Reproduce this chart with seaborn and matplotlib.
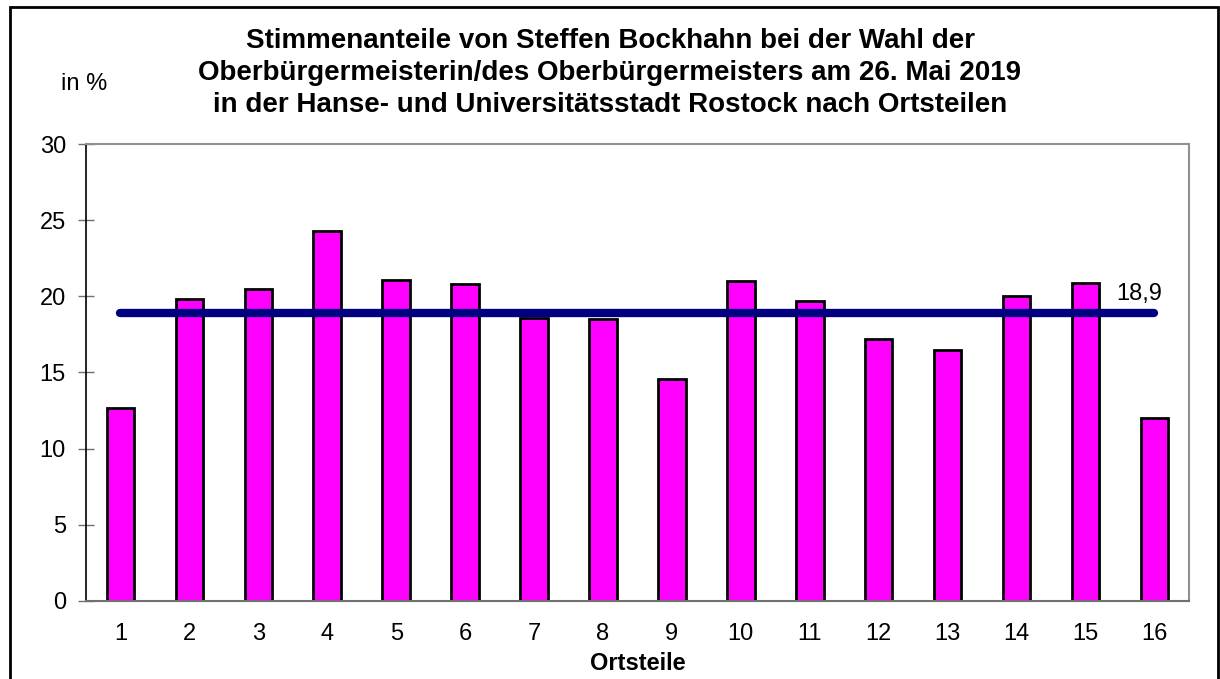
import numpy as np
import pandas as pd
import seaborn as sns
import matplotlib.pyplot as plt
from matplotlib.patches import Rectangle

# Data
ortsteile = [str(i) for i in range(1, 17)]
anteile = [12.7, 19.8, 20.5, 24.3, 21.1, 20.8, 18.6, 18.5,
           14.6, 21.0, 19.7, 17.2, 16.5, 20.0, 20.9, 12.0]
gesamt = 18.9

title = ("Stimmenanteile von Steffen Bockhahn bei der Wahl der\n"
         "Oberbürgermeisterin/des Oberbürgermeisters am 26. Mai 2019\n"
         "in der Hanse- und Universitätsstadt Rostock nach Ortsteilen")

df = pd.DataFrame({"Ortsteil": ortsteile, "Anteil": anteile})
df["Gesamt"] = gesamt

sns.set_style("white")
plt.rcParams["font.family"] = ["Liberation Sans", "DejaVu Sans"]
plt.rcParams["text.color"] = "black"
plt.rcParams["axes.labelcolor"] = "black"

fig = plt.figure(figsize=(12.2, 6.79), dpi=100)
ax = fig.add_axes([0.0705, 0.1149, 0.904, 0.673])

sns.barplot(data=df, x="Ortsteil", y="Anteil", color="#FF00FF",
            edgecolor="black", linewidth=2, width=0.4, saturation=1, ax=ax)
sns.lineplot(data=df, x="Ortsteil", y="Gesamt", color="#000080",
             linewidth=6, solid_capstyle="round", ax=ax)
ax.text(14.45, gesamt + 0.55, f"{gesamt:.1f}".replace(".", ","),
        fontsize=17, ha="left", va="bottom")

ax.set_xlim(-0.5, 15.5)
ax.set_ylim(0, 30)
ax.set_yticks(range(0, 31, 5))
ax.set_xticks(range(16))
ax.set_xticks(np.arange(-0.5, 16, 1), minor=True)
ax.tick_params(axis="x", which="major", length=0, labelsize=17, pad=16,
               labelcolor="black")
ax.tick_params(axis="x", which="minor", direction="inout", length=11,
               width=1, color="#707070")
ax.tick_params(axis="y", direction="inout", length=11, width=1,
               color="#707070", labelsize=17, pad=9, left=True,
               labelcolor="black")
ax.set_xlabel("Ortsteile", fontsize=17, fontweight="bold", labelpad=5)
ax.set_ylabel("")

for side in ["top", "right"]:
    ax.spines[side].set_color("#909090")
    ax.spines[side].set_linewidth(1.5)
ax.spines["bottom"].set_color("#707070")
ax.spines["bottom"].set_linewidth(1.5)
ax.spines["left"].set_color("black")
ax.spines["left"].set_linewidth(1.2)

fig.text(0.5, 0.8925, title, ha="center", va="center", fontsize=20,
         fontweight="bold", linespacing=1.28)
fig.text(0.069, 0.876, "in %", ha="center", va="center", fontsize=17)

# outer frame
fig.patches.append(Rectangle((10 / 1220, -0.05), 1208 / 1220, 1.05 - 7 / 679,
                             transform=fig.transFigure, fill=False,
                             edgecolor="black", linewidth=2))

fig.savefig("out.png", dpi=100)
